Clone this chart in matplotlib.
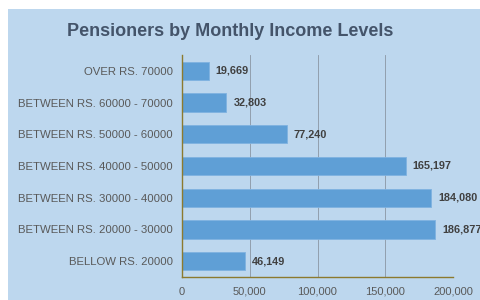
import matplotlib
matplotlib.use("Agg")
import matplotlib.pyplot as plt
from matplotlib.patches import Rectangle

categories = ["OVER RS. 70000", "BETWEEN RS. 60000 - 70000", "BETWEEN RS. 50000 - 60000",
              "BETWEEN RS. 40000 - 50000", "BETWEEN RS. 30000 - 40000",
              "BETWEEN RS. 20000 - 30000", "BELLOW RS. 20000"]
values = [19669, 32803, 77240, 165197, 184080, 186877, 46149]
xticks = [0, 50000, 100000, 150000, 200000]
xticklabels = ["0", "50,000", "100,000", "150,000", "200,000"]
title = "Pensioners by Monthly Income Levels"

plt.rcParams['font.family'] = ['Liberation Sans', 'DejaVu Sans']

W, H = 480, 300
fig = plt.figure(figsize=(4.8, 3.0), dpi=100, facecolor="white")
bg = "#bdd7ee"
fig.patches.append(Rectangle((8 / W, 0), 1 - 8 / W, 1 - 9 / H, transform=fig.transFigure,
                             facecolor=bg, edgecolor="none", zorder=-10))

left, right = 182, 453
top, bottom = 55, 277
ax = fig.add_axes([left / W, 1 - bottom / H, (right - left) / W, (bottom - top) / H])
ax.set_facecolor("none")

y = list(range(len(categories)))
ax.barh(y, values, height=0.58, color="#5f9fd6", edgecolor="#7fb2e0", linewidth=0.6, zorder=3)
ax.set_ylim(len(categories) - 0.5, -0.5)
ax.set_xlim(0, 200000)
ax.set_yticks(y)
ax.set_yticklabels(categories, fontsize=8.2, color="#595959")
ax.set_xticks(xticks)
ax.set_xticklabels(xticklabels, fontsize=8.0, color="#595959")
ax.tick_params(axis="both", length=0)
ax.tick_params(axis="y", pad=6.5)
ax.tick_params(axis="x", pad=7)

ax.grid(axis="x", color="#8a96a3", linewidth=0.6, zorder=1)
for s in ["top", "right"]:
    ax.spines[s].set_visible(False)
for s in ["left", "bottom"]:
    ax.spines[s].set_color("#8c7a2e")
    ax.spines[s].set_linewidth(1.0)
    ax.spines[s].set_zorder(4)

for yi, v in zip(y, values):
    ax.annotate(f"{v:,}", xy=(v, yi), xytext=(5, 0), textcoords="offset points",
                va="center", ha="left", fontsize=7.8, fontweight="bold", color="#404040",
                annotation_clip=False)

fig.text(230 / W, 1 - 31 / H, title, ha="center", va="center", fontsize=13,
         fontweight="bold", color="#44546a")

fig.savefig("out.png", dpi=100, facecolor="white")
